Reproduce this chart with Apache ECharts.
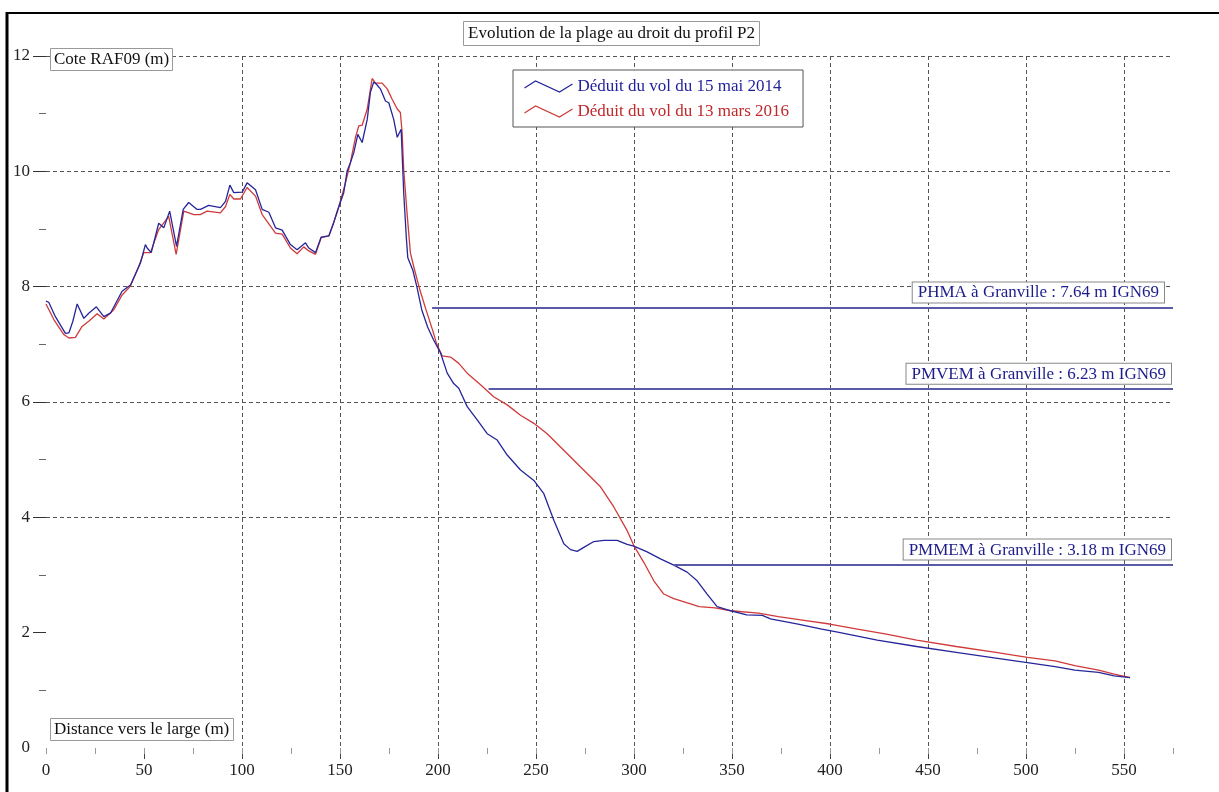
<!DOCTYPE html>
<html>
<head>
<meta charset="utf-8">
<script src="https://cdn.jsdelivr.net/npm/echarts@6/dist/echarts.min.js"></script>
<style>
html,body{margin:0;padding:0;background:#fff;}
#chart{width:1219px;height:792px;}
</style>
</head>
<body>
<div id="chart"></div>
<script>
// ---------- data ----------
const chartTitle = 'Evolution de la plage au droit du profil P2';
const yAxisTitle = 'Cote RAF09 (m)';
const xAxisTitle = 'Distance vers le large (m)';
const seriesNames = ['Déduit du vol du 15 mai 2014', 'Déduit du vol du 13 mars 2016'];

const xLabelValues = [0, 50, 100, 150, 200, 250, 300, 350, 400, 450, 500, 550];
const xMajorTicks = [50, 100, 150, 200, 250, 300, 350, 400, 450, 500, 550];
const yTickValues = [2, 4, 6, 8, 10, 12];

// Profile 2014 (blue)
const dist2014 = [0, 1.4, 4.8, 9.9, 11.7, 13.7, 15.9, 19.3, 21.8, 25.7, 29.5, 32.9, 38.8, 43.1, 48.2, 50.7, 51.6, 53.7, 57.5, 60.1,
  63.1, 66.6, 70.0, 72.8, 77.1, 78.8, 83.0, 89.0, 91.6, 93.8, 95.8, 100.1, 102.6, 106.9, 110.3, 113.7, 117.1, 120.5, 124.7, 128.1,
  132.4, 134.1, 137.5, 140.4, 144.3, 146.8, 148.5, 151.9, 153.6, 155.3, 157.0, 159.1, 161.3, 163.9, 165.5, 167.2, 168.6, 170.6, 173.2, 174.9,
  177.4, 179.2, 181.2, 182.5, 183.9, 184.6, 187.2, 189.2, 191.7, 194.7, 197.7, 201.3, 204.7, 208.0, 210.6, 214.9, 220.0, 225.1, 230.2, 235.3,
  242.1, 248.9, 254.0, 259.1, 264.2, 267.6, 271.0, 274.4, 279.5, 284.6, 291.4, 296.5, 299.9, 306.7, 313.5, 320.3, 327.1, 332.2, 337.3, 342.4,
  349.4, 357.5, 365.5, 369.6, 383.7, 395.8, 403.9, 424.1, 444.2, 464.4, 484.6, 500.7, 514.8, 524.9, 537.0, 545.0, 553.1];
const elev2014 = [7.75, 7.73, 7.48, 7.19, 7.20, 7.40, 7.70, 7.45, 7.54, 7.65, 7.48, 7.54, 7.92, 8.03, 8.41, 8.73, 8.67, 8.59, 9.10, 9.02,
  9.31, 8.70, 9.34, 9.46, 9.34, 9.34, 9.41, 9.37, 9.48, 9.76, 9.63, 9.64, 9.80, 9.68, 9.34, 9.29, 9.02, 8.98, 8.73, 8.64,
  8.76, 8.67, 8.59, 8.86, 8.88, 9.11, 9.30, 9.63, 10.00, 10.15, 10.32, 10.64, 10.50, 10.90, 11.37, 11.55, 11.51, 11.43, 11.22, 11.19,
  10.90, 10.59, 10.73, 9.63, 8.82, 8.50, 8.28, 8.00, 7.60, 7.30, 7.08, 6.85, 6.50, 6.32, 6.24, 5.92, 5.69, 5.45, 5.34, 5.08,
  4.82, 4.64, 4.41, 3.95, 3.54, 3.44, 3.41, 3.48, 3.58, 3.60, 3.60, 3.53, 3.50, 3.40, 3.28, 3.17, 3.05, 2.90, 2.67, 2.45,
  2.38, 2.31, 2.30, 2.24, 2.15, 2.06, 2.01, 1.87, 1.76, 1.66, 1.56, 1.48, 1.41, 1.35, 1.31, 1.25, 1.22];

// Profile 2016 (red)
const dist2016 = [0, 4.0, 9.1, 11.7, 15.0, 18.4, 21.8, 26.1, 29.5, 34.6, 38.7, 43.1, 46.7, 49.9, 53.3, 57.5, 62.6, 66.4, 70.3, 75.4,
  78.7, 82.2, 89.0, 91.6, 93.8, 95.8, 99.2, 102.6, 106.9, 110.3, 117.1, 120.5, 124.7, 128.1, 131.5, 134.1, 137.5, 140.4, 144.3, 148.5,
  152.8, 155.3, 157.9, 159.6, 161.3, 163.9, 166.4, 168.1, 171.5, 174.1, 176.6, 179.2, 180.8, 181.7, 182.5, 184.2, 185.9, 187.6, 190.7, 193.7,
  197.2, 199.2, 202.1, 206.4, 210.6, 214.9, 221.7, 228.4, 235.3, 242.1, 248.9, 255.7, 262.5, 269.3, 276.1, 282.9, 289.7, 296.5, 299.9, 305.0,
  310.1, 315.2, 320.3, 325.2, 333.3, 341.4, 349.4, 363.5, 373.6, 387.7, 399.8, 414.0, 428.1, 444.2, 464.4, 484.6, 500.7, 514.8, 524.9, 537.0,
  545.0, 553.1];
const elev2016 = [7.70, 7.43, 7.17, 7.11, 7.12, 7.31, 7.40, 7.53, 7.44, 7.60, 7.85, 8.01, 8.30, 8.59, 8.59, 8.99, 9.22, 8.56, 9.31, 9.25,
  9.25, 9.31, 9.28, 9.39, 9.60, 9.52, 9.52, 9.72, 9.57, 9.25, 8.93, 8.91, 8.67, 8.57, 8.69, 8.62, 8.56, 8.85, 8.88, 9.28,
  9.80, 10.15, 10.59, 10.79, 10.80, 11.08, 11.61, 11.53, 11.53, 11.43, 11.25, 11.08, 11.02, 10.67, 10.03, 9.28, 8.59, 8.35, 7.95, 7.62,
  7.25, 7.02, 6.80, 6.78, 6.67, 6.50, 6.30, 6.09, 5.95, 5.77, 5.63, 5.45, 5.22, 4.99, 4.76, 4.53, 4.18, 3.77, 3.51, 3.22,
  2.90, 2.67, 2.59, 2.54, 2.45, 2.43, 2.38, 2.34, 2.28, 2.21, 2.15, 2.06, 1.98, 1.87, 1.76, 1.66, 1.57, 1.51, 1.43, 1.35,
  1.28, 1.22];

// Reference tide levels at Granville
const levelNames = ['PHMA', 'PMVEM', 'PMMEM'];
const levelValues = [7.64, 6.23, 3.18];
const levelStart = [197, 225.8, 320];
const levelEnd = 575;

// ---------- styles ----------
const FONT = 'Liberation Serif';
const BLUE = '#26269a';
const RED = '#d03a3a';
const LEVEL_LINE = '#5a5aa8';
const LEVEL_TEXT = '#1c1c8c';

const pairs = (xs, ys) => xs.map((x, i) => [x, ys[i]]);

const levelLabelDistance = [[9, 5], [2, 5], [2, 5]];
const levelData = levelValues.map((v, i) => [
  {
    name: levelNames[i] + ' à Granville : ' + v.toFixed(2) + ' m IGN69',
    coord: [levelStart[i], v],
    label: { distance: levelLabelDistance[i] }
  },
  { coord: [levelEnd, v] }
]);

const boxTitle = (text, left, top, pad) => ({
  text: text, left: left, top: top, padding: pad,
  backgroundColor: '#fff', borderColor: '#999', borderWidth: 1,
  textStyle: { fontFamily: FONT, fontSize: 17, fontWeight: 'normal', color: '#111' }
});

const chart = echarts.init(document.getElementById('chart'), null, { renderer: 'canvas' });
chart.setOption({
  animation: false,
  backgroundColor: '#fff',
  title: [
    boxTitle(chartTitle, 463, 21, [4, 5, 4, 5]),
    boxTitle(yAxisTitle, 50, 48, [3, 4, 3, 4]),
    boxTitle(xAxisTitle, 50, 718, [3, 4, 3, 4])
  ],
  legend: {
    orient: 'vertical',
    left: 513, top: 70,
    padding: [8, 14, 7, 9],
    itemWidth: 48, itemHeight: 14, itemGap: 8,
    backgroundColor: '#fff', borderColor: '#555', borderWidth: 1,
    textStyle: { fontFamily: FONT, fontSize: 17 },
    data: [
      { name: seriesNames[0], icon: 'path://M0,9L11,2L35,13L48,5',
        itemStyle: { color: 'none', borderColor: BLUE, borderWidth: 1.2 }, textStyle: { color: '#1f1f9c' } },
      { name: seriesNames[1], icon: 'path://M0,9L11,2L35,13L48,5',
        itemStyle: { color: 'none', borderColor: RED, borderWidth: 1.2 }, textStyle: { color: '#c0282a' } }
    ]
  },
  grid: { left: 46, right: 46, top: 56, bottom: 44, show: false },
  xAxis: [
    {
      type: 'value', min: 0, max: 575, interval: 50, position: 'bottom',
      axisLine: { show: false },
      axisTick: { show: true, length: 11, customValues: xMajorTicks, lineStyle: { color: '#444' } },
      axisLabel: { margin: 14, customValues: xLabelValues,
        fontFamily: FONT, fontSize: 17, color: '#222' },
      splitLine: { show: true, showMinLine: false,
        lineStyle: { type: [4, 3], color: '#555', width: 1 } }
    },
    {
      type: 'value', min: 0, max: 575, interval: 25, position: 'bottom',
      axisLine: { show: false },
      axisTick: { show: true, length: 6, lineStyle: { color: '#999' } },
      axisLabel: { show: false },
      splitLine: { show: false }
    }
  ],
  yAxis: {
    type: 'value', min: 0, max: 12, interval: 2,
    axisLine: { show: false },
    axisTick: { show: true, length: 13, customValues: yTickValues, lineStyle: { color: '#333' } },
    minorTick: { show: true, splitNumber: 2, length: 7, lineStyle: { color: '#666' } },
    axisLabel: { margin: 16, fontFamily: FONT, fontSize: 17, color: '#222' },
    splitLine: { show: true, showMinLine: false, lineStyle: { type: [4, 3], color: '#555', width: 1 } }
  },
  series: [
    {
      name: seriesNames[0], type: 'line', xAxisIndex: 0, symbol: 'none', smooth: false,
      lineStyle: { color: BLUE, width: 1.3 }, itemStyle: { color: BLUE },
      data: pairs(dist2014, elev2014),
      z: 4,
      markLine: {
        silent: true, animation: false, symbol: ['none', 'none'],
        lineStyle: { color: LEVEL_LINE, width: 2, type: 'solid' },
        label: {
          show: true, position: 'insideEndTop', formatter: p => p.name,
          fontFamily: FONT, fontSize: 17, color: LEVEL_TEXT,
          backgroundColor: '#fff', borderColor: '#888', borderWidth: 1, padding: [2, 5, 1, 5]
        },
        emphasis: { disabled: true },
        data: levelData
      }
    },
    {
      name: seriesNames[1], type: 'line', xAxisIndex: 0, symbol: 'none', smooth: false,
      lineStyle: { color: RED, width: 1.3 }, itemStyle: { color: RED },
      data: pairs(dist2016, elev2016),
      z: 3
    }
  ],
  graphic: [
    { type: 'line', silent: true, shape: { x1: 6, y1: 13, x2: 1219, y2: 13 }, style: { stroke: '#000', lineWidth: 2 } },
    { type: 'line', silent: true, shape: { x1: 7, y1: 12, x2: 7, y2: 792 }, style: { stroke: '#000', lineWidth: 3 } }
  ]
});
</script>
</body>
</html>
